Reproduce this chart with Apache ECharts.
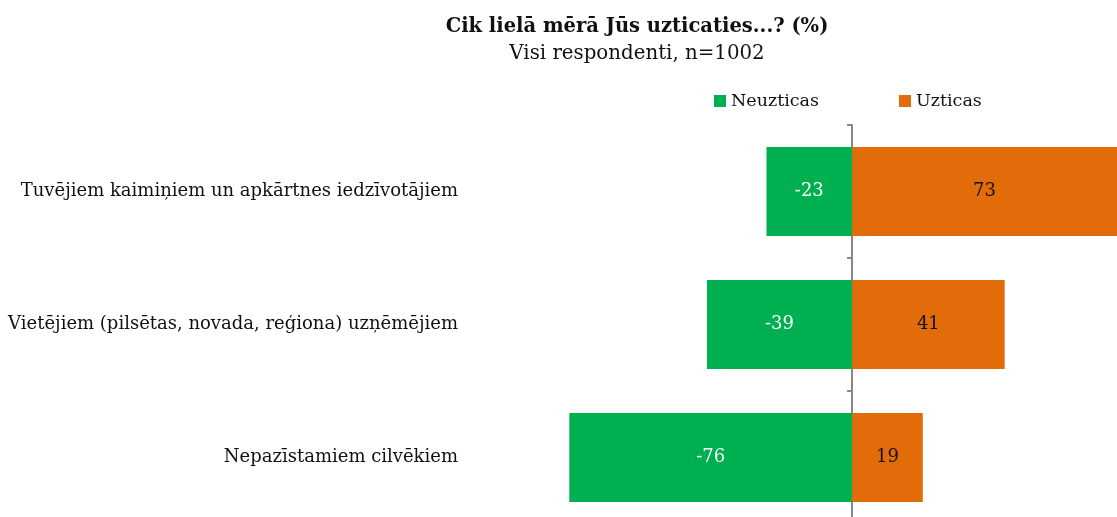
<!DOCTYPE html>
<html>
<head>
<meta charset="utf-8">
<script src="https://cdn.jsdelivr.net/npm/echarts@6/dist/echarts.min.js"></script>
<style>
  html, body { margin: 0; padding: 0; background: #fff; overflow: hidden; }
  /* slightly taller than the window: the last row is cut at the bottom edge */
  #chart { width: 1117px; height: 524px; }
</style>
</head>
<body>
<div id="chart"></div>
<script>
const categories = [
  'Tuvējiem kaimiņiem un apkārtnes iedzīvotājiem',
  'Vietējiem (pilsētas, novada, reģiona) uzņēmējiem',
  'Nepazīstamiem cilvēkiem'
]
const distrust = [-23, -39, -76]
const trust = [73, 41, 19]

const font = 'DejaVu Serif'
const chart = echarts.init(document.getElementById('chart'))

// zero line sits at x≈852, ~3.72px per percent; right edge cuts the 73 bar
const option = {
  animation: false,
  textStyle: { fontFamily: font },
  title: {
    text: 'Cik lielā mērā Jūs uzticaties...? (%)',
    subtext: 'Visi respondenti, n=1002',
    left: 632,
    textAlign: 'center',
    top: 12,
    itemGap: 7,
    textStyle: { fontFamily: font, fontSize: 19.5, fontWeight: 'bold', color: '#111' },
    subtextStyle: { fontFamily: font, fontSize: 19.8, color: '#111' }
  },
  legend: {
    left: 709,
    top: 87,
    itemWidth: 12,
    itemHeight: 12,
    itemGap: 80,
    icon: 'rect',
    textStyle: { fontFamily: font, fontSize: 17.5, color: '#111' },
    data: ['Neuzticas', 'Uzticas']
  },
  grid: {
    left: 480,
    right: 0,
    top: 125,
    bottom: 0,
    containLabel: false
  },
  xAxis: {
    type: 'value',
    min: -100,
    max: 71.2,
    show: false
  },
  yAxis: [
    {
      type: 'category',
      data: categories,
      inverse: true,
      axisLine: { show: false, onZero: false },
      axisTick: { show: false },
      axisLabel: { margin: 22, fontFamily: font, fontSize: 18, color: '#111' }
    },
    {
      type: 'category',
      data: categories,
      inverse: true,
      position: 'left',
      axisLine: { show: true, onZero: true, lineStyle: { color: '#888', width: 2 } },
      axisTick: { show: true, length: 5, lineStyle: { color: '#888', width: 2 } },
      axisLabel: { show: false }
    }
  ],
  series: [
    {
      name: 'Neuzticas',
      type: 'bar',
      stack: 'total',
      data: distrust,
      barCategoryGap: '33%',
      itemStyle: { color: '#00B050' },
      label: { show: true, position: 'inside', color: '#fff', fontFamily: font, fontSize: 18 }
    },
    {
      name: 'Uzticas',
      type: 'bar',
      stack: 'total',
      data: trust,
      barCategoryGap: '33%',
      itemStyle: { color: '#E36C0A' },
      label: { show: true, position: 'inside', color: '#111', fontFamily: font, fontSize: 18 }
    }
  ]
}

chart.setOption(option)
</script>
</body>
</html>
